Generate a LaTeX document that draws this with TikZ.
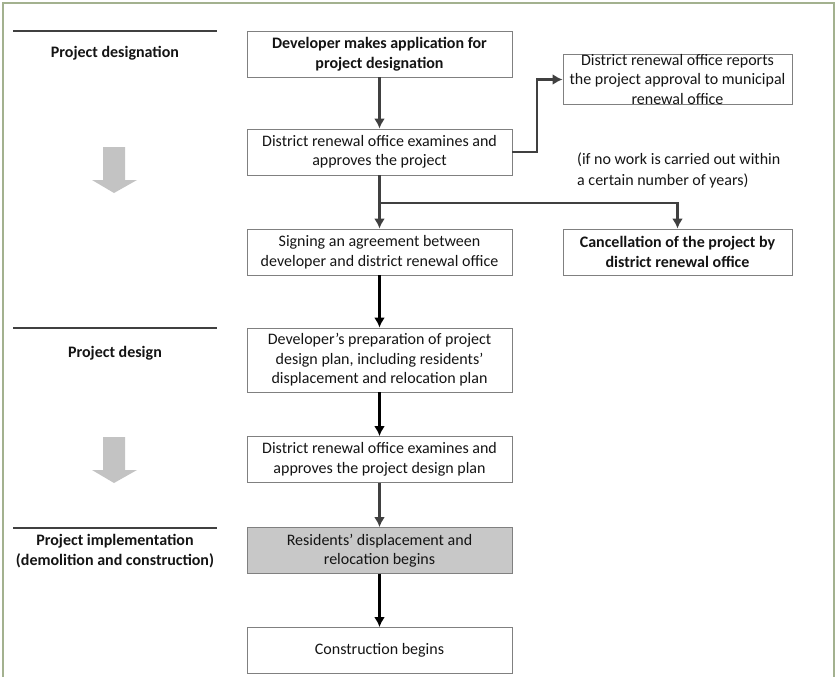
\documentclass[tikz,border=0pt]{standalone}
\usepackage{fontspec}
\setmainfont{Carlito}
\usetikzlibrary{arrows.meta}
\definecolor{framegreen}{HTML}{A3B18F}
\definecolor{boxline}{HTML}{808080}
\definecolor{darkarrow}{HTML}{404040}
\definecolor{rulegray}{HTML}{404040}
\definecolor{blockgray}{HTML}{C3C3C3}
\definecolor{stepgray}{HTML}{C8C8C8}
\definecolor{inktext}{HTML}{141414}
\tikzstyle{stage}=[draw=boxline,line width=0.9pt,align=center,text=inktext,minimum width=265pt,minimum height=46pt,inner sep=0pt,font=\fontsize{16}{19.5}\selectfont]
\tikzstyle{side}=[stage,minimum width=229pt]
\tikzstyle{phase}=[align=center,text=inktext,font=\bfseries\fontsize{16}{20}\selectfont]
\tikzstyle{flow}=[line width=2.4pt,-{Latex[length=10pt,width=11pt]}]

\begin{document}
\begin{tikzpicture}[x=1pt,y=-1pt]
	\useasboundingbox (0,0) rectangle (836,677);
	% frame
	\draw[framegreen,line width=1.5pt] (3,690) -- (3,3) -- (834,3) -- (834,690);

	% phases on the left
	\foreach \y in {31,328,528}
	  \draw[rulegray,line width=1.2pt] (13,\y) -- (217,\y);
	\node[phase] (desig) at (115,53) {Project designation};
	\node[phase] (design) at (115,353) {Project design};
	\node[phase] (impl) at (115,551) {Project implementation\\(demolition and construction)};
	\foreach \t in {147,437}
	  \fill[blockgray] (103,\t) -- (125,\t) -- ++(0,33) -- ++(12,0) -- (114,\t+46) -- (92,\t+33) -- (103,\t+33) -- cycle;

	% steps
	\node[stage,font=\bfseries\fontsize{16}{19.5}\selectfont] (apply) at (379.5,54) {Developer makes application for\\project designation};
	\node[stage] (exam) at (379.5,152) {District renewal office examines and\\approves the project};
	\node[side] (report) at (677.5,79.5) {District renewal office reports\\the project approval to municipal\\renewal office};
	\node[anchor=north west,align=left,inner sep=0pt,text=inktext,font=\fontsize{16}{21}\selectfont] (note) at (577,153) {(if no work is carried out within\\a certain number of years)};
	\node[stage] (sign) at (379.5,252) {Signing an agreement between\\developer and district renewal office};
	\node[side,font=\bfseries\fontsize{16}{19.5}\selectfont] (cancel) at (677.5,252) {Cancellation of the project by\\district renewal office};
	\node[stage,minimum height=64pt] (plan) at (379.5,360) {Developer’s preparation of project\\design plan, including residents’\\displacement and relocation plan};
	\node[stage] (check) at (379.5,459.5) {District renewal office examines and\\approves the project design plan};
	\node[stage,fill=stepgray] (move) at (379.5,550.5) {Residents’ displacement and\\relocation begins};
	\node[stage] (build) at (379.5,650.5) {Construction begins};

	% connectors
	\coordinate (split) at (379.5,203);
	\draw[flow,darkarrow] (apply) -- (exam);
	\draw[flow,darkarrow] (exam.east) -- (537,152) |- (report.west);
	\draw[flow,darkarrow] (exam) -- (sign);
	\draw[flow,darkarrow] (split) -| (cancel);
	\draw[flow] (sign) -- (plan);
	\draw[flow] (plan) -- (check);
	\draw[flow,darkarrow] (check) -- (move);
	\draw[flow] (move) -- (build);
\end{tikzpicture}
\end{document}
